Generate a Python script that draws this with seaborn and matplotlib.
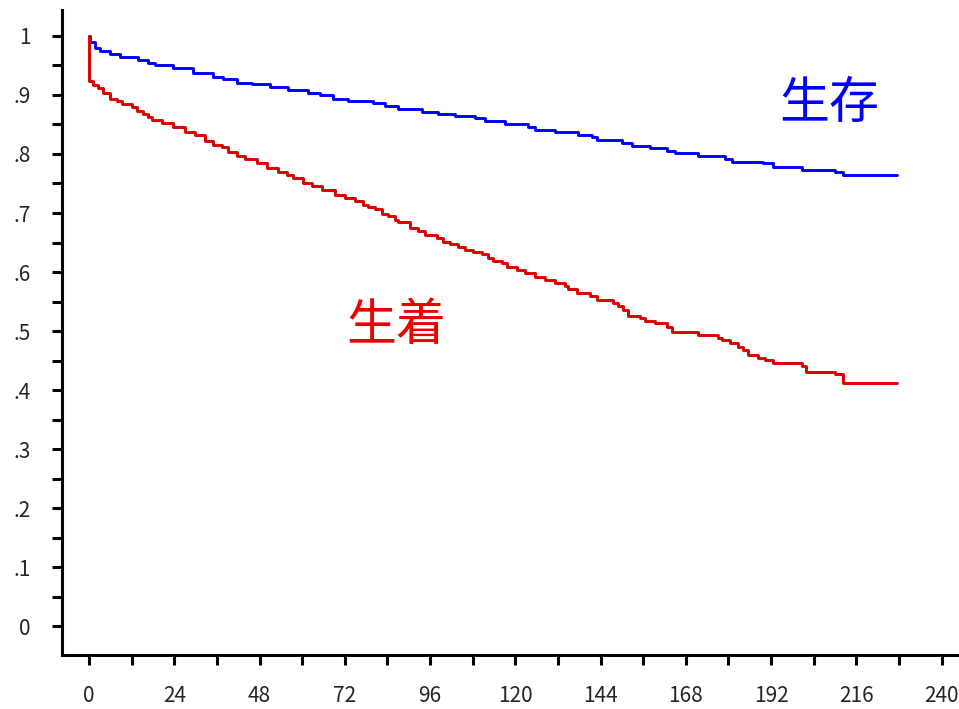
import matplotlib
matplotlib.use("Agg")
import matplotlib.pyplot as plt
import seaborn as sns
import pandas as pd
from matplotlib.ticker import MultipleLocator, FixedLocator, FixedFormatter

# --- data ---
surv_t = [0, 0.3, 1.7, 3.1, 5.9, 8.7, 13.8, 16.6, 18.6, 23.6, 29.3, 34.9, 37.7, 41.7,
          45.9, 50.9, 56.0, 61.6, 65.0, 68.7, 72.9, 79.9, 83.3, 87.0, 93.7, 98.2,
          103.0, 108.6, 111.5, 117.1, 123.6, 125.5, 131.2, 137.6, 141.6, 143.0,
          150.0, 152.8, 157.9, 162.7, 164.9, 171.4, 179.0, 181.0, 189.7, 192.5,
          200.7, 210.0, 212.2, 227.4]
surv_s = [1.0, 0.99, 0.98, 0.975, 0.969, 0.964, 0.959, 0.954, 0.951, 0.945, 0.938,
          0.931, 0.927, 0.921, 0.919, 0.914, 0.908, 0.904, 0.900, 0.894, 0.890,
          0.886, 0.881, 0.877, 0.872, 0.868, 0.864, 0.861, 0.856, 0.851, 0.846,
          0.841, 0.837, 0.833, 0.828, 0.824, 0.819, 0.814, 0.810, 0.805, 0.801,
          0.797, 0.792, 0.786, 0.784, 0.778, 0.773, 0.769, 0.764, 0.764]

att_t = [0, 0.1, 1.1, 2.5, 3.9, 5.9, 7.9, 9.3, 12.1, 13.5, 15.2, 16.6, 17.7, 20.5,
         23.6, 27.0, 29.8, 32.6, 34.9, 37.4, 39.1, 41.7, 43.9, 47.3, 50.1, 53.2,
         55.7, 57.4, 60.2, 62.8, 65.6, 69.2, 72.1, 74.9, 77.1, 78.5, 80.5, 82.5,
         84.2, 86.1, 87.0, 90.3, 92.6, 94.6, 97.9, 99.6, 101.6, 103.9, 105.8,
         108.1, 110.6, 112.3, 113.7, 116.2, 117.6, 120.5, 122.7, 125.5, 128.3,
         131.2, 134.0, 134.8, 137.3, 141.0, 143.0, 147.5, 148.9, 150.3, 151.7,
         155.1, 156.5, 159.3, 162.7, 164.1, 171.4, 177.0, 178.2, 180.4, 182.7,
         184.1, 185.5, 188.3, 190.3, 192.5, 200.7, 201.8, 210.0, 212.2, 227.4]
att_s = [1.0, 0.923, 0.917, 0.911, 0.903, 0.894, 0.890, 0.884, 0.879, 0.873, 0.868,
         0.863, 0.858, 0.852, 0.845, 0.838, 0.832, 0.822, 0.815, 0.811, 0.804,
         0.797, 0.791, 0.784, 0.777, 0.770, 0.764, 0.759, 0.751, 0.745, 0.739,
         0.731, 0.725, 0.721, 0.714, 0.711, 0.706, 0.699, 0.695, 0.688, 0.684,
         0.675, 0.670, 0.663, 0.657, 0.651, 0.647, 0.643, 0.638, 0.634, 0.631,
         0.624, 0.619, 0.615, 0.608, 0.603, 0.598, 0.591, 0.586, 0.582, 0.576,
         0.572, 0.565, 0.559, 0.553, 0.548, 0.542, 0.536, 0.526, 0.522, 0.517,
         0.513, 0.507, 0.499, 0.494, 0.488, 0.484, 0.479, 0.473, 0.468, 0.459,
         0.455, 0.451, 0.445, 0.440, 0.431, 0.427, 0.412, 0.412]

x_ticks = [0, 24, 48, 72, 96, 120, 144, 168, 192, 216, 240]
y_ticks = [0, 0.1, 0.2, 0.3, 0.4, 0.5, 0.6, 0.7, 0.8, 0.9, 1.0]
y_labels = ["0", ".1", ".2", ".3", ".4", ".5", ".6", ".7", ".8", ".9", "1"]
groups = ["生存", "生着"]
colors = {"生存": "#0000FF", "生着": "#DD0000"}

df = pd.concat([
    pd.DataFrame({"t": surv_t, "s": surv_s, "g": groups[0]}),
    pd.DataFrame({"t": att_t, "s": att_s, "g": groups[1]}),
], ignore_index=True)

sns.set_style("white")
plt.rcParams["font.family"] = ["Noto Sans CJK JP", "DejaVu Sans"]

fig = plt.figure(figsize=(9.59, 7.09), dpi=100)
ax = fig.add_axes([62 / 959, 1 - 655 / 709, 1 - 62 / 959, (655 - 10) / 709])

sns.lineplot(data=df, x="t", y="s", hue="g", palette=colors, estimator=None,
             sort=False, drawstyle="steps-post", linewidth=2.1, legend=False, ax=ax)

ax.set_xlim(-7.6, 244.9)
ax.set_ylim(-0.049, 1.044)
ax.set_xlabel("")
ax.set_ylabel("")

ax.xaxis.set_major_locator(FixedLocator(x_ticks))
ax.xaxis.set_major_formatter(FixedFormatter([str(v) for v in x_ticks]))
ax.xaxis.set_minor_locator(MultipleLocator(12))
ax.yaxis.set_major_locator(FixedLocator(y_ticks))
ax.yaxis.set_major_formatter(FixedFormatter(y_labels))
ax.yaxis.set_minor_locator(MultipleLocator(0.05))

for side in ["top", "right"]:
    ax.spines[side].set_visible(False)
for side in ["left", "bottom"]:
    ax.spines[side].set_linewidth(2.2)
    ax.spines[side].set_color("black")

ax.tick_params(axis="both", which="both", bottom=True, left=True,
               direction="out", length=7.5, width=2.2, color="black")
ax.tick_params(which="major", labelsize=15)
ax.tick_params(axis="x", which="major", pad=14)
ax.tick_params(axis="y", which="major", pad=15)

ax.text(208.5, 0.885, "生存", color="#0000FF", fontsize=36,
        ha="center", va="center")
ax.text(86.4, 0.508, "生着", color="#EE0000", fontsize=36,
        ha="center", va="center")

fig.savefig("out.png", dpi=100)
